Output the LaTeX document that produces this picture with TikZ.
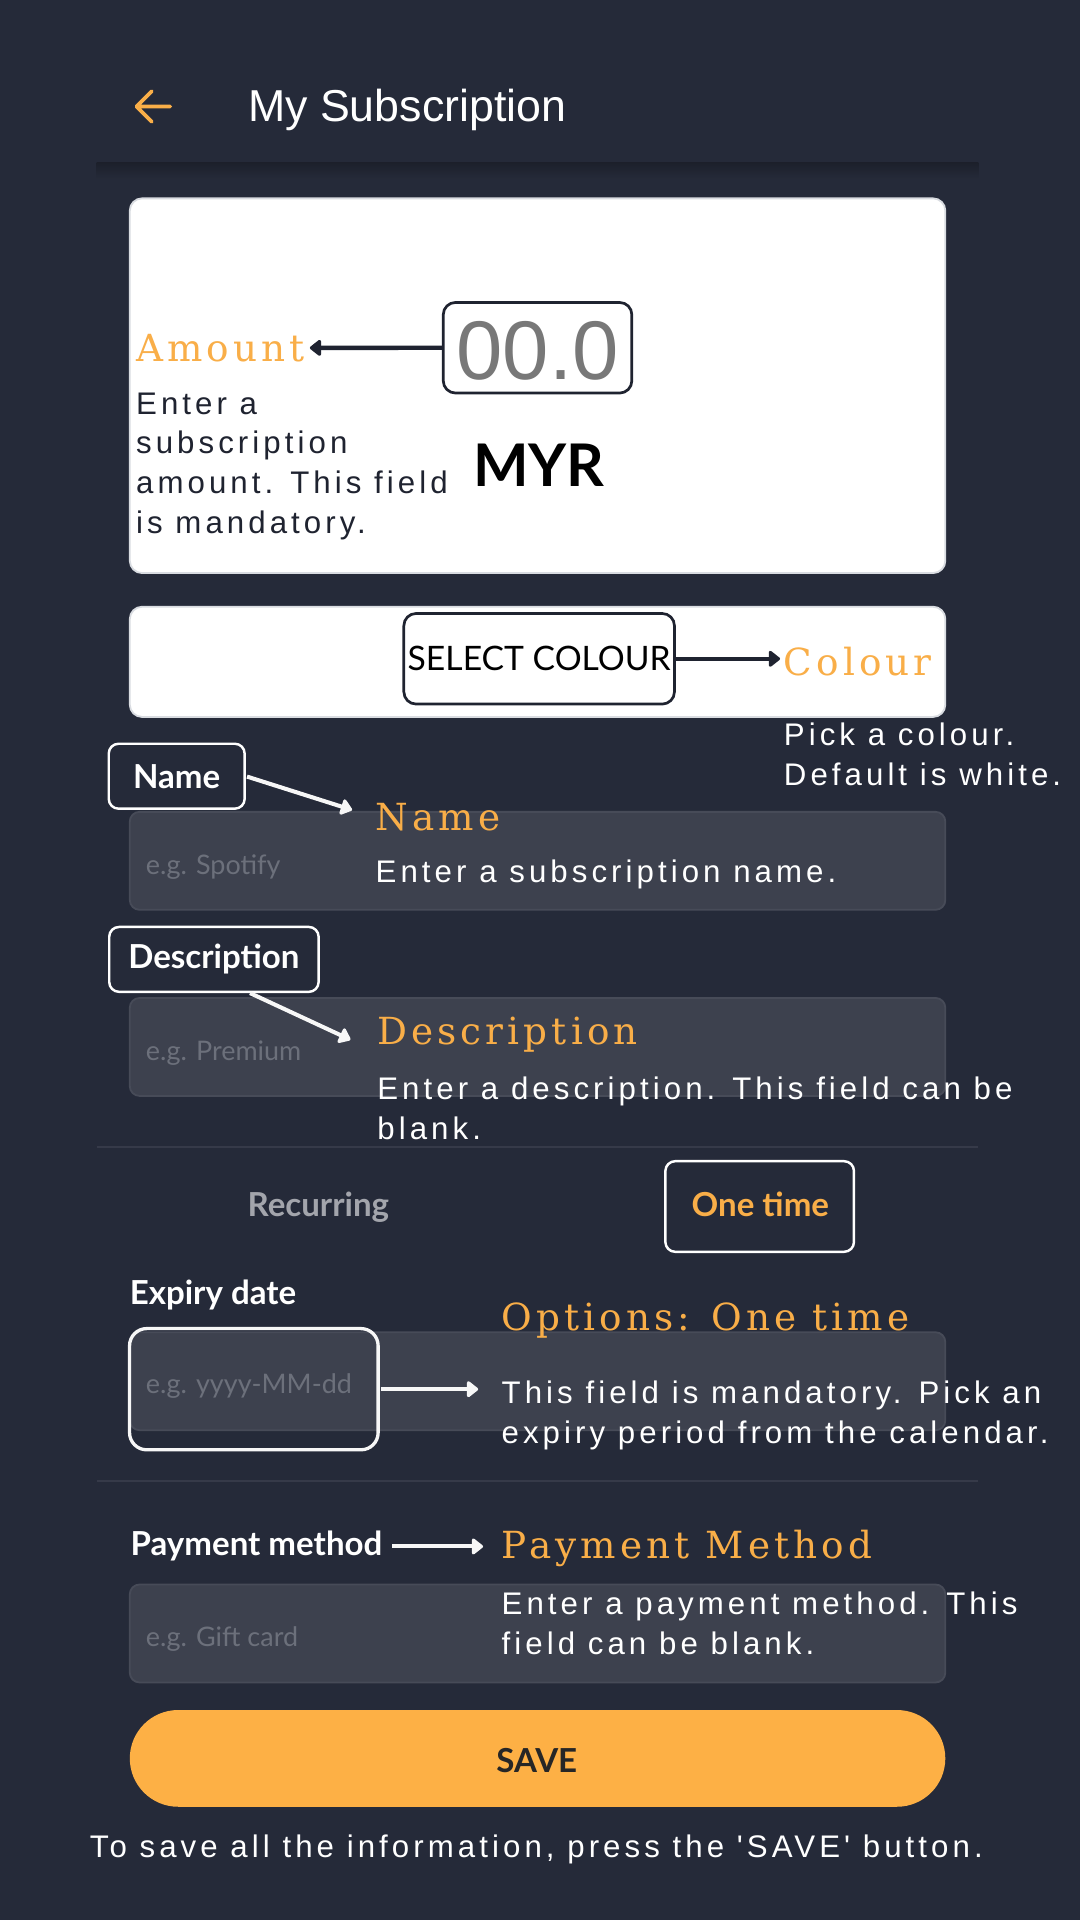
\documentclass[tikz,border=0pt]{standalone}
\usepackage{fontspec}
\usepackage{tikz}
\setmainfont{Liberation Sans}
\newfontfamily\slabfont[LetterSpace=11]{DejaVu Serif}
\newfontfamily\notefont[LetterSpace=13]{Liberation Sans}
\newfontfamily\uifont{Lato}
\usetikzlibrary{arrows.meta}
\usetikzlibrary{positioning}
\definecolor{bgnavy}{HTML}{252A39}
\definecolor{shadenavy}{HTML}{1C202B}
\definecolor{fieldgray}{HTML}{3D414E}
\definecolor{fieldedge}{HTML}{474B58}
\definecolor{hintgray}{HTML}{6C707B}
\definecolor{accent}{HTML}{F9AE48}
\definecolor{savefill}{HTML}{FDB045}
\definecolor{rulegray}{HTML}{363A49}
\definecolor{inkdark}{HTML}{1F2330}
\definecolor{cardedge}{HTML}{D9DCE1}

\begin{document}
\begin{tikzpicture}[x=1pt, y=-1pt,
    title/.style={anchor=base west, inner sep=0pt, text=accent,
      font=\slabfont\fontsize{30.5}{36}\selectfont},
    note/.style={anchor=north west, inner sep=0pt, align=left, text=white,
      font=\notefont\fontsize{25.5}{32.5}\selectfont},
    uitext/.style={inner sep=0pt, text=white,
      font=\uifont\bfseries\fontsize{27}{32}\selectfont},
    hint/.style={anchor=base west, inner sep=0pt, text=hintgray,
      font=\uifont\fontsize{22}{26}\selectfont},
    card/.style={draw=cardedge, fill=white, line width=1.5pt, rounded corners=10pt,
      minimum width=666pt},
    field/.style={draw=fieldedge, fill=fieldgray, line width=1.5pt, rounded corners=8pt,
      minimum width=666pt, minimum height=80pt},
    tagbox/.style={draw=white, line width=2pt, rounded corners=8pt, inner sep=0pt},
    inkbox/.style={draw=inkdark, line width=2.2pt, rounded corners=10pt, inner sep=0pt},
    whitearrow/.style={draw=white!94!gray, line width=3.3pt,
      -{Triangle[round, length=10pt, width=15pt]}},
    darkarrow/.style={draw=inkdark, line width=3.6pt,
      -{Triangle[round, length=10pt, width=15pt]}},
    sepline/.style={draw=rulegray, line width=2pt}]

  % page
  \useasboundingbox (0,0) rectangle (882,1568);
  \fill[bgnavy] (0,0) rectangle (882,1568);

  % app bar
  \shade[top color=shadenavy, bottom color=bgnavy] (79,133) rectangle (799,146);
  \draw[accent, line width=3pt, line cap=round, line join=round]
    (112,87) -- (139,87) (124,74.5) -- (111.5,87) -- (124,99.5);
  \node[anchor=base west, inner sep=0pt, text=white,
    font=\fontsize{36.5}{40}\selectfont] (bartitle) at (202.5,99.4) {My Subscription};

  % amount card
  \node[card, minimum height=306pt] (amountcard) at (439,315) {};
  \node[inkbox, minimum width=154pt, minimum height=74pt] (amtbox) at (439,284) {};
  \node[anchor=base, inner sep=0pt, text=black!53,
    font=\fontsize{68}{70}\selectfont] (amtvalue) at (439,310) {00.0};
  \node[anchor=base, inner sep=0pt, text=black,
    font=\uifont\bfseries\fontsize{48}{50}\selectfont] (currency) at (440,397) {MYR};
  \node[title] (amounttitle) at (111,295) {Amount};
  \node[note, text=inkdark] (amountnote) at (111,320.4)
    {Enter a\\subscription\\amount. This field\\is mandatory.};
  \draw[darkarrow, shorten >=4pt] (amtbox.west) -- (amounttitle.east);

  % colour card
  \node[card, minimum height=90pt] (colourcard) at (439,540.5) {};
  \node[inkbox, minimum width=221pt, minimum height=74pt,
    font=\uifont\fontsize{27.5}{30}\selectfont] (colourbox) at (440.3,538) {SELECT COLOUR};
  \node[title] (colourtitle) at (640,552) {Colour};
  \node[note] (colournote) at (640,590) {Pick a colour.\\Default is white.};
  \draw[darkarrow, shorten >=3pt] (colourbox.east) -- (colourbox.east -| colourtitle.west);

  % name
  \node[field] (namefield) at (439,703) {};
  \node[hint] (namehint) at (119,714) {e.g. Spotify};
  \node[tagbox, fill=bgnavy, minimum width=111pt, minimum height=53pt,
    uitext] (namelbl) at (144.3,633.9) {Name};
  \node[title] (nametitle) at (306.6,678.4) {Name};
  \node[note] (namenote) at (306.6,702.3) {Enter a subscription name.};
  \draw[whitearrow, shorten <=1pt, shorten >=20pt] (namelbl.east) -- (nametitle.west);

  % description
  \node[field] (descfield) at (439,855) {};
  \node[hint] (deschint) at (119,866) {e.g. Premium};
  \node[tagbox, fill=bgnavy, minimum width=171pt, minimum height=53pt,
    uitext] (desclbl) at (174.7,783.5) {Description};
  \node[title] (desctitle) at (308,852.7) {Description};
  \node[note] (descnote) at (308,879.3) {Enter a description. This field can be\\blank.};
  \draw[whitearrow, shorten >=24pt] (desclbl.-43) -- (desctitle.south west);

  \draw[sepline] (79,936.5) -- (799,936.5);

  % options
  \node[uitext, anchor=base, text=white!58!bgnavy] (recurring) at (260,993.3) {Recurring};
  \node[tagbox, minimum width=154pt, minimum height=74pt] (onetimebox) at (620.4,985.3) {};
  \node[uitext, anchor=base, text=accent] (onetime) at (621,993.3) {One time};

  \node[uitext, anchor=base west] (explbl) at (105.8,1065.5) {Expiry date};
  \node[field] (expfield) at (439,1128) {};
  \node[hint] (exphint) at (119,1138) {e.g. yyyy-MM-dd};
  \node[draw=white!94!gray, line width=2.7pt, rounded corners=14pt,
    minimum width=203pt, minimum height=99pt] (expbox) at (207.3,1134.5) {};
  \node[title] (opttitle) at (409.5,1086.8) {Options: One time};
  \node[note] (optnote) at (409.5,1127.6)
    {This field is mandatory. Pick an\\expiry period from the calendar.};
  \draw[whitearrow, shorten <=1pt, shorten >=19pt] (expbox.east) -- (expbox.east -| optnote.west);

  \draw[sepline] (79,1209.5) -- (799,1209.5);

  % payment
  \node[uitext, anchor=base west] (paylbl) at (106.5,1270.7) {Payment method};
  \node[field] (payfield) at (439,1334) {};
  \node[hint] (payhint) at (119,1345) {e.g. Gift card};
  \node[title] (paytitle) at (409.5,1273) {Payment Method};
  \node[note] (paynote) at (409.5,1300) {Enter a payment method. This\\field can be blank.};
  \draw[whitearrow, shorten <=8pt, shorten >=15pt] (paylbl.east) -- (paylbl.east -| paytitle.west);

  % save
  \node[fill=savefill, rounded corners=39.5pt, minimum width=666pt, minimum height=79pt]
    (savebtn) at (439,1436) {};
  \node[uitext, anchor=base, text=black!85] (savetext) at (438.4,1447.8) {SAVE};
  \node[note, anchor=north] (savenote) at (438,1498.6)
    {To save all the information, press the 'SAVE' button.};
\end{tikzpicture}
\end{document}
